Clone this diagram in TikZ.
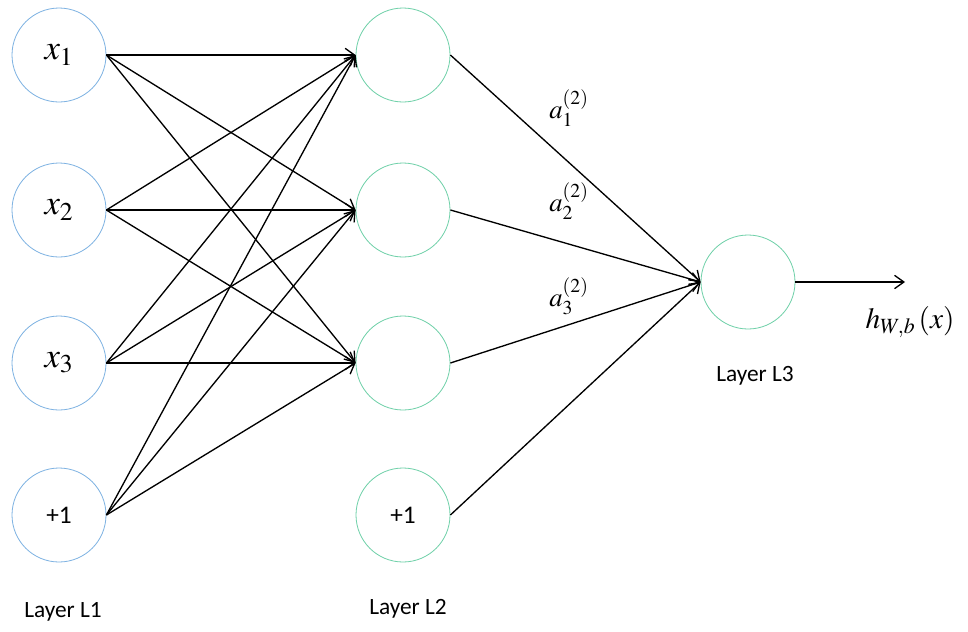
\documentclass[tikz,border=0pt]{standalone}
\usepackage{mathptmx}
\usepackage[no-math]{fontspec}
\setmainfont{Carlito}
\usepackage{tikz}
\usetikzlibrary{arrows.meta}
\definecolor{inblue}{RGB}{125,178,226}
\definecolor{hidgreen}{RGB}{110,208,168}

\begin{document}
\begin{tikzpicture}[
    x=0.75pt, y=-0.75pt,
    neuron/.style={
      circle, minimum size=70.5pt, inner sep=0pt,
      draw, line width=0.6pt, fill=white
    },
    inp/.style={neuron, draw=inblue},
    hid/.style={neuron, draw=hidgreen},
    arr/.style={-{Straight Barb[length=7pt,width=10pt]}, line width=1pt},
    lbl/.style={font=\fontsize{17.5}{20}\selectfont},
  ]
    \useasboundingbox (0,0) rectangle (968,632);

    % layer L1
    \node[inp] (x1) at (59,55)  {\fontsize{26}{30}\selectfont$x_1$};
    \node[inp] (x2) at (59,210) {\fontsize{26}{30}\selectfont$x_2$};
    \node[inp] (x3) at (59,363) {\fontsize{26}{30}\selectfont$x_3$};
    \node[inp] (b1) at (59,515) {\fontsize{19}{22}\selectfont +1};

    % layer L2
    \node[hid] (a1) at (403,55)  {};
    \node[hid] (a2) at (403,210) {};
    \node[hid] (a3) at (403,363) {};
    \node[hid] (b2) at (403,515) {\fontsize{19}{22}\selectfont +1};

    % layer L3
    \node[hid] (out) at (748,282) {};
    \coordinate (hend) at (905,282);

    \node[lbl] (l1) at (63,612)  {Layer L1};
    \node[lbl] (l2) at (408,609) {Layer L2};
    \node[lbl] (l3) at (755,376) {Layer L3};

    \draw[arr] (x1.east) -- (a1.west);
    \draw[arr] (x1.east) -- (a2.west);
    \draw[arr] (x1.east) -- (a3.west);
    \draw[arr] (x2.east) -- (a1.west);
    \draw[arr] (x2.east) -- (a2.west);
    \draw[arr] (x2.east) -- (a3.west);
    \draw[arr] (x3.east) -- (a1.west);
    \draw[arr] (x3.east) -- (a2.west);
    \draw[arr] (x3.east) -- (a3.west);
    \draw[arr] (b1.east) -- (a1.west);
    \draw[arr] (b1.east) -- (a2.west);
    \draw[arr] (b1.east) -- (a3.west);

    \draw[arr] (a1.east) -- (out.west);
    \draw[arr] (a2.east) -- (out.west);
    \draw[arr] (a3.east) -- (out.west);
    \draw[arr] (b2.east) -- (out.west);
    \draw[arr] (out.east) -- (hend);

    \node (w1) at (569,108) {\fontsize{20}{24}\selectfont$a^{(2)}_1$};
    \node (w2) at (569,201) {\fontsize{20}{24}\selectfont$a^{(2)}_2$};
    \node (w3) at (569,296) {\fontsize{20}{24}\selectfont$a^{(2)}_3$};
    \node (hx) at (910,322) {\fontsize{22}{26}\selectfont$h_{W,b}\left(x\right)$};
  \end{tikzpicture}
\end{document}
